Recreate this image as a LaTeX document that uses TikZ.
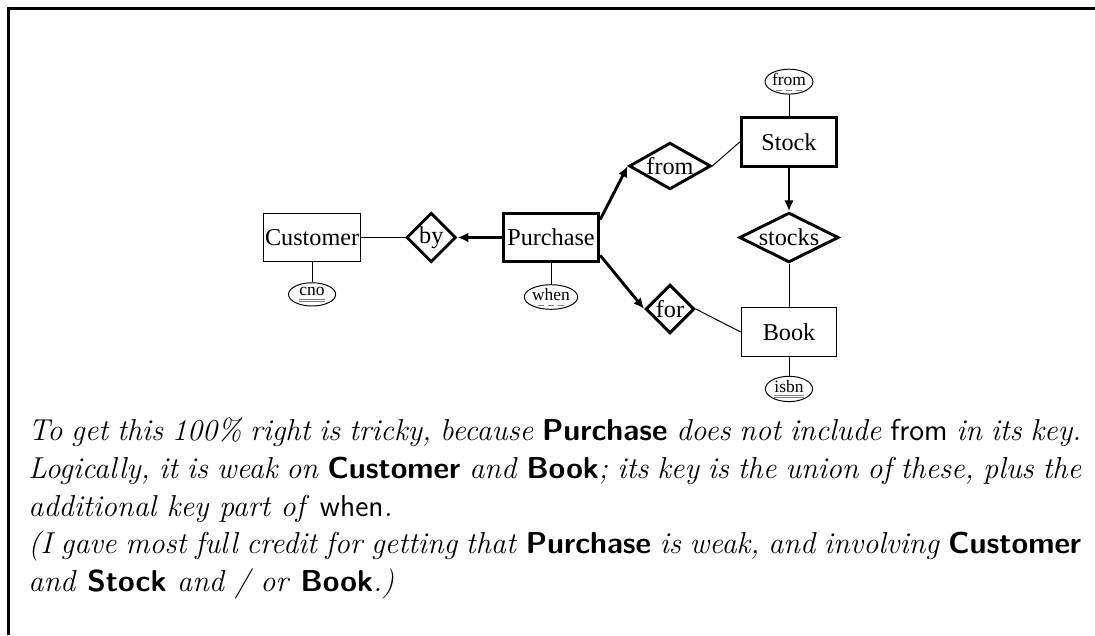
\documentclass[tikz,border=0pt]{standalone}
\usepackage{fontspec}
\newfontfamily\erfont{Liberation Serif}
\usetikzlibrary{shapes.geometric, arrows.meta, positioning}

% key attribute: double underline, partial key: dashed underline
\newcommand{\keyul}[1]{\setbox0=\hbox{#1}\rlap{\color{gray}\rule[-1.6pt]{\wd0}{0.35pt}}\rlap{\color{gray}\rule[-2.4pt]{\wd0}{0.35pt}}\box0}
\newcommand{\partul}[1]{\setbox0=\hbox{#1}\rlap{\color{gray}\hbox to\wd0{\hfil\rule[-2.2pt]{2.4pt}{0.35pt}\hskip1.7pt\rule[-2.2pt]{2.4pt}{0.35pt}\hskip1.7pt\rule[-2.2pt]{2.4pt}{0.35pt}\hfil}}\box0}
\newcommand{\entname}[1]{\textup{\textsf{\bfseries #1}}}
\newcommand{\attname}[1]{\textup{\textsf{#1}}}

\begin{document}
\begin{tikzpicture}[
          x=0.4132pt, y=-0.4132pt,
          font=\erfont,
          entity/.style={rectangle, draw, line width=0.4pt, minimum width=39.5pt, minimum height=20pt, inner sep=0.5pt},
          weak/.style={entity, line width=1.2pt},
          relship/.style={diamond, draw, line width=1.2pt, inner sep=0.333pt},
          attr/.style={ellipse, draw, line width=0.4pt, minimum width=19.5pt, minimum height=9.6pt, inner sep=0pt, font=\erfont\fontsize{7.2}{8}\selectfont},
          link/.style={line width=0.4pt},
          idlink/.style={line width=1.2pt, -{Latex[length=4.5pt,width=4pt]}},
          frame/.style={line width=1.2pt}
        ]
          \useasboundingbox (0,0) rectangle (1095,635);
          \draw[frame] (8.5,635) -- (8.5,8.5) -- (1095,8.5);

          \node (purchase) [weak] at (551,237.5) {Purchase};
          \node (by) [relship, left=18.3pt of purchase] {by};
          \node (customer) [entity, left=18.3pt of by] {Customer};
          \node (cno) [attr, below=8.3pt of customer] {\keyul{cno}};
          \node (when) [attr, below=8.7pt of purchase] {\partul{when}};
          \node (fromrel) [relship, aspect=1.75] at (670,166) {from};
          \node (forrel) [relship] at (670,309) {for};
          \node (stock) [weak] at (789,142) {Stock};
          \node (stockfrom) [attr, above=9pt of stock] {\partul{from}};
          \node (stocks) [relship, aspect=2] at (789,237.5) {stocks};
          \node (book) [entity] at (789,332) {Book};
          \node (isbn) [attr, below=7.9pt of book] {\keyul{isbn}};

          \draw[link] (customer) -- (by);
          \draw[idlink] (purchase) -- (by);
          \draw[idlink] (purchase.20) -- (fromrel.west);
          \draw[idlink] (purchase.-20) -- (forrel.west);
          \draw[link] (fromrel.east) -- (stock.west);
          \draw[link] (forrel.east) -- (book.west);
          \draw[idlink] (stock) -- (stocks);
          \draw[link] (stocks) -- (book);
          \draw[link] (customer) -- (cno);
          \draw[link] (purchase) -- (when);
          \draw[link] (stock) -- (stockfrom);
          \draw[link] (book) -- (isbn);

          \node (note) [anchor=base west, inner sep=0pt, text width=435pt, align=justify, font=\normalfont\itshape\fontsize{12.5}{15.7}\selectfont] at (28,440)
            {To get this 100\% right is tricky, because \entname{Purchase} does not include \attname{from} in its key.\linebreak
             Logically, it is weak on \entname{Customer} and \entname{Book}; its key is the union of these, plus the\linebreak
             additional key part of \attname{when}.\\
             (I gave most full credit for getting that \entname{Purchase} is weak, and involving \entname{Customer}\linebreak
             and \entname{Stock} and / or \entname{Book}.)};
        \end{tikzpicture}
\end{document}
